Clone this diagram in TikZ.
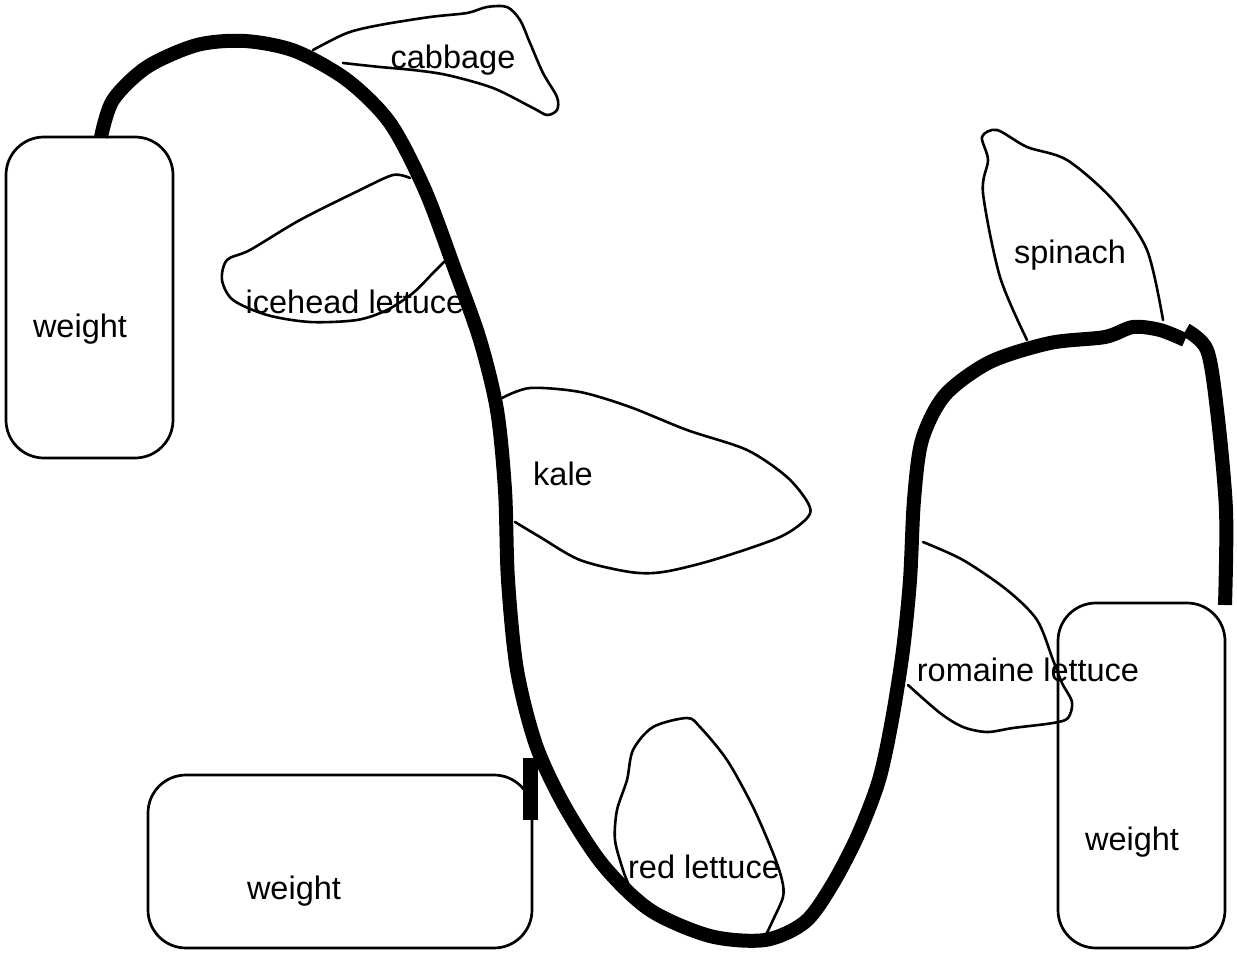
\documentclass[tikz,border=0pt]{standalone}
\usepackage{fontspec}
\setmainfont{Liberation Sans}
\tikzset{
  weightbox/.style={draw,line width=2.7pt,rounded corners=38pt,inner sep=0pt},
  leaf/.style={line width=2.6pt,line join=round,line cap=round},
  stem/.style={line width=14pt,line join=round},
}
\begin{document}
\begin{tikzpicture}[x=1pt,y=-1pt,font=\fontsize{32.5}{39}\selectfont]
        \useasboundingbox (0,0) rectangle (1237,958);

        \begin{scope}[every node/.style=weightbox]
          \node[minimum width=167pt,minimum height=321pt] (w1) at (89.5,297.5) {};
          \node[minimum width=384pt,minimum height=173pt] (w2) at (340,861.5) {};
          \node[minimum width=167pt,minimum height=345pt] (w3) at (1141.5,775.5) {};
        \end{scope}

        \begin{scope}[every path/.style=leaf]
          \draw plot[smooth] coordinates {(313,50) (347,33) (380,25) (430,17) (467,13) (487,7) (507,7) (520,20) (530,43) (543,73) (557,97) (557,110) (547,115) (533,108) (493,88) (447,75) (413,70) (380,67) (343,63)};
          \draw plot[smooth] coordinates {(410,178) (393,175) (360,190) (300,220) (250,250) (227,260) (222,280) (233,300) (267,315) (310,322) (357,320) (387,310) (413,293) (433,273) (448,258)};
          \draw plot[smooth] coordinates {(502,398) (530,388) (580,392) (630,407) (687,430) (747,450) (787,477) (808,503) (808,517) (780,537) (713,560) (663,572) (630,572) (580,560) (540,537) (515,522)};
          \draw plot[smooth] coordinates {(628,883) (623,870) (615,840) (617,810) (627,780) (633,750) (653,727) (687,718) (700,727) (727,760) (753,807) (773,853) (782,880) (783,897) (773,920) (765,937)};
          \draw plot[smooth] coordinates {(923,542) (963,560) (1007,590) (1037,620) (1053,660) (1062,683) (1072,702) (1068,718) (1053,723) (1013,728) (987,732) (963,727) (940,713) (908,685)};
          \draw plot[smooth] coordinates {(1027,340) (1000,277) (983,193) (988,160) (982,137) (997,130) (1027,147) (1067,160) (1113,200) (1147,250) (1163,320)};
        \end{scope}

        \draw[stem] plot[smooth] coordinates {(101,137) (113,100) (147,67) (197,45) (245,41) (295,51) (347,80) (390,123) (425,190) (455,270) (480,340) (497,410) (505,490) (508,580) (517,670) (536,745) (564,805) (603,865) (650,910) (710,936) (765,940) (805,922) (832,885) (858,835) (879,780) (892,720) (903,650) (910,580) (914,500) (922,440) (945,395) (990,362) (1050,343) (1105,337) (1133,327) (1160,330) (1185,340)};
        \draw[stem] plot[smooth] coordinates {(1186,330) (1207,350) (1217,410) (1226,510) (1225,605)};
        \draw[line width=15pt] (530,758) -- (530,820);

        \begin{scope}[every node/.style={inner sep=0pt}]
          \node (t1) at (80,329)   {weight};
          \node (t2) at (294,891)  {weight};
          \node (t3) at (1132,842) {weight};
          \node (cabbage) at (453,60)  {cabbage};
          \node (icehead) at (355,302) {icehead lettuce};
          \node (kale)    at (563,474) {kale};
          \node (red)     at (704,867) {red lettuce};
          \node (romaine) at (1028,670) {romaine lettuce};
          \node (spinach) at (1070,255) {spinach};
        \end{scope}

      \end{tikzpicture}
\end{document}
